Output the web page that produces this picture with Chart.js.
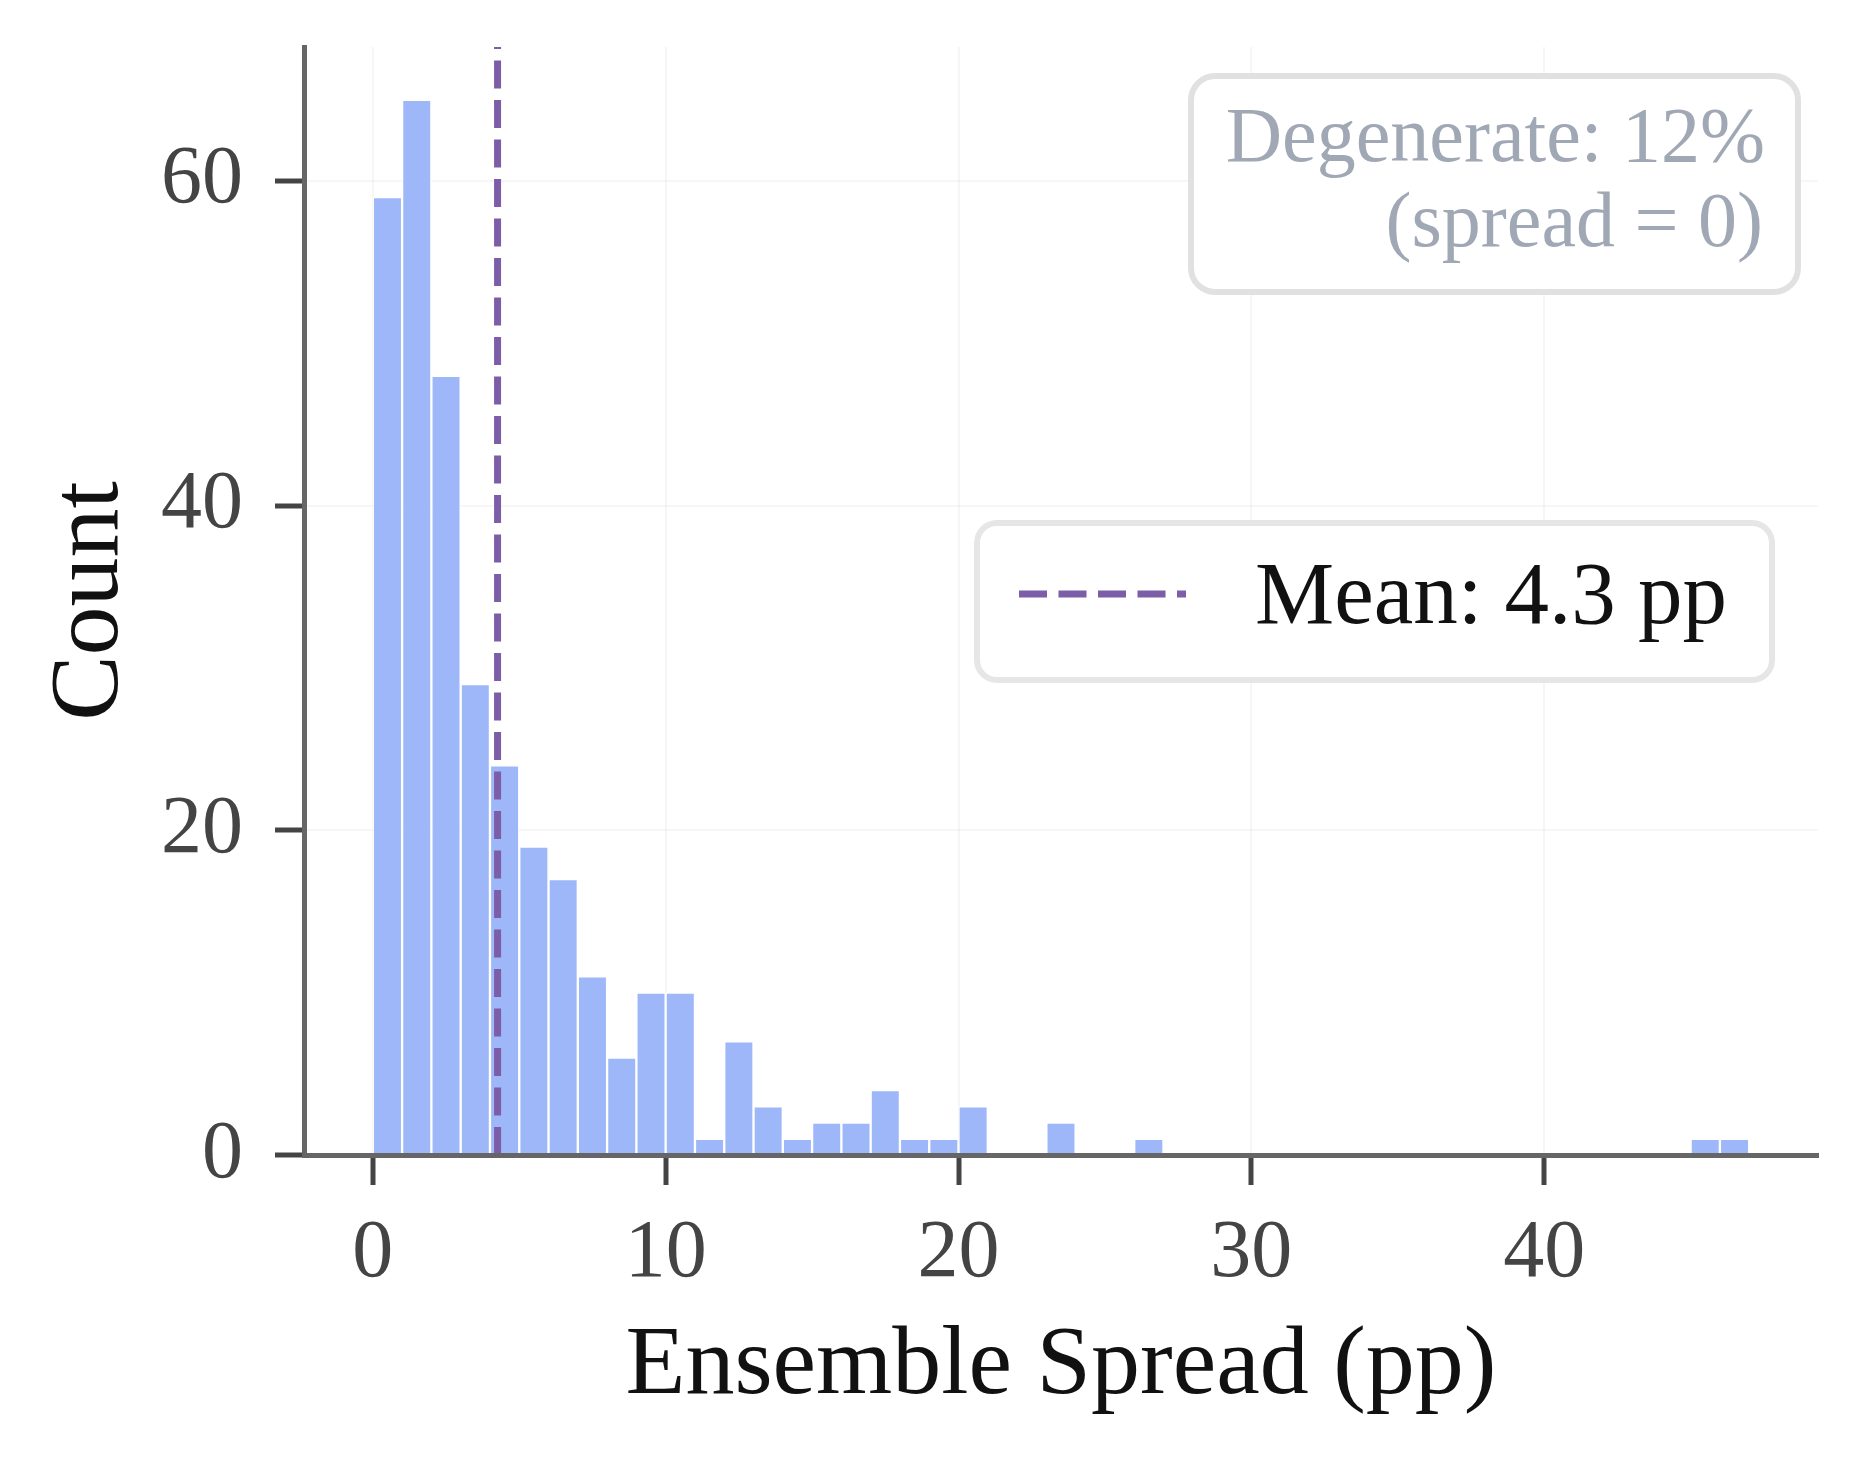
<!DOCTYPE html>
<html>
<head>
<meta charset="utf-8">
<script src="https://cdn.jsdelivr.net/npm/chart.js@4.4.1/dist/chart.umd.min.js"></script>
<style>
  html, body { margin: 0; padding: 0; background: #fff; }
  #wrap { width: 1862px; height: 1461px; }
</style>
</head>
<body>
<div id="wrap"><canvas id="hist" width="1862" height="1461"></canvas></div>
<script>
// histogram of ensemble spread, bins of 1 pp
const binEdges = [0, 1, 2, 3, 4, 5, 6, 7, 8, 9, 10, 11, 12, 13, 14, 15, 16, 17, 18, 19, 20,
    21, 22, 23, 24, 25, 26, 27, 28, 29, 30, 31, 32, 33, 34, 35, 36, 37, 38, 39, 40,
    41, 42, 43, 44, 45, 46, 47];
const counts = [59, 65, 48, 29, 24, 19, 17, 11, 6, 10, 10, 1, 7, 3, 1, 2, 2, 4, 1, 1, 3,
    0, 0, 2, 0, 0, 1, 0, 0, 0, 0, 0, 0, 0, 0, 0, 0, 0, 0, 0, 0, 0, 0, 0, 0, 1, 1];
const meanSpread = 4.26;
const meanLabel = 'Mean: 4.3 pp';
const noteLines = ['Degenerate: 12%', '(spread = 0)'];

const xTicks = [0, 10, 20, 30, 40];
const yTicks = [0, 20, 40, 60];
const xMin = -2.35;
const xMax = 49.35;
const yMax = 68.25;

const SERIF = '"Liberation Serif", "DejaVu Serif", serif';
const purple = 'rgb(123, 94, 167)';

const histData = counts.map((c, i) => ({ x: (binEdges[i] + binEdges[i + 1]) / 2, y: c }));

// legend + "degenerate" note, drawn on top of the plot
const boxesPlugin = {
    id: 'boxes',
    afterDraw(chart) {
        const c = chart.ctx;
        const meanSet = chart.data.datasets[1];
        c.save();

        // note box (top right)
        c.beginPath();
        c.roundRect(1191, 76, 607, 216, 24);
        c.fillStyle = 'rgba(255,255,255,0.9)';
        c.fill();
        c.lineWidth = 6;
        c.strokeStyle = '#e1e1e1';
        c.stroke();
        c.fillStyle = '#a0a8b5';
        c.font = '78px ' + SERIF;
        c.textAlign = 'right';
        c.textBaseline = 'alphabetic';
        c.fillText(noteLines[0], 1765, 161);
        c.fillText(noteLines[1], 1763, 246);

        // legend box
        c.beginPath();
        c.roundRect(977, 523, 795, 157, 20);
        c.fillStyle = 'rgba(255,255,255,0.9)';
        c.fill();
        c.lineWidth = 6;
        c.strokeStyle = '#e6e6e6';
        c.stroke();

        c.beginPath();
        c.setLineDash(meanSet.borderDash);
        c.lineWidth = meanSet.borderWidth;
        c.strokeStyle = meanSet.borderColor;
        c.moveTo(1019, 594);
        c.lineTo(1186, 594);
        c.stroke();
        c.setLineDash([]);

        c.fillStyle = '#111';
        c.font = '89px ' + SERIF;
        c.textAlign = 'left';
        c.fillText(meanSet.label, 1255, 623);
        c.restore();
    }
};

const ctx = document.getElementById('hist');
new Chart(ctx, {
    type: 'bar',
    data: {
        datasets: [
            {
                type: 'bar',
                label: 'Count',
                data: histData,
                backgroundColor: 'rgb(157, 183, 248)',
                borderColor: 'rgba(255, 255, 255, 0.6)',
                borderWidth: 1.5,
                barPercentage: 1,
                categoryPercentage: 1,
                order: 2
            },
            {
                type: 'line',
                label: meanLabel,
                data: [{ x: meanSpread, y: 0 }, { x: meanSpread, y: yMax }],
                borderColor: purple,
                borderWidth: 7,
                borderDash: [28, 11.5],
                pointRadius: 0,
                fill: false,
                order: 1
            }
        ]
    },
    options: {
        responsive: false,
        animation: false,
        devicePixelRatio: 1,
        layout: { padding: { left: 0, right: 44, top: 47, bottom: 0 } },
        plugins: {
            legend: { display: false },
            tooltip: { enabled: false }
        },
        scales: {
            x: {
                type: 'linear',
                min: xMin,
                max: xMax,
                offset: false,
                afterBuildTicks: s => { s.ticks = xTicks.map(v => ({ value: v })); },
                afterFit: s => {
                    s.height = 306;
                    s.paddingLeft = 0;
                    s.paddingRight = 0;
                },
                grid: {
                    offset: false,
                    color: 'rgba(0,0,0,0.035)',
                    lineWidth: 2,
                    tickColor: '#444',
                    tickWidth: 5,
                    tickLength: 30
                },
                border: { color: '#666', width: 5, z: 1 },
                ticks: {
                    color: '#444',
                    padding: 20,
                    maxRotation: 0,
                    font: { family: SERIF, size: 82 }
                },
                title: {
                    display: true,
                    text: 'Ensemble Spread (pp)',
                    color: '#111',
                    font: { family: SERIF, size: 98, lineHeight: 1 },
                    padding: { top: 0, bottom: 45 }
                }
            },
            y: {
                min: 0,
                max: yMax,
                afterBuildTicks: s => { s.ticks = yTicks.map(v => ({ value: v })); },
                afterFit: s => {
                    s.width = 304;
                    s.paddingTop = 0;
                    s.paddingBottom = 0;
                },
                grid: {
                    color: 'rgba(0,0,0,0.035)',
                    lineWidth: 2,
                    tickColor: '#444',
                    tickWidth: 5,
                    tickLength: 29
                },
                border: { color: '#666', width: 5, z: 1 },
                ticks: {
                    color: '#444',
                    padding: 32,
                    font: { family: SERIF, size: 82 }
                },
                title: {
                    display: true,
                    text: 'Count',
                    color: '#111',
                    font: { family: SERIF, size: 98, lineHeight: 1 },
                    padding: { top: 42, bottom: 0 }
                }
            }
        }
    },
    plugins: [boxesPlugin]
});
</script>
</body>
</html>
